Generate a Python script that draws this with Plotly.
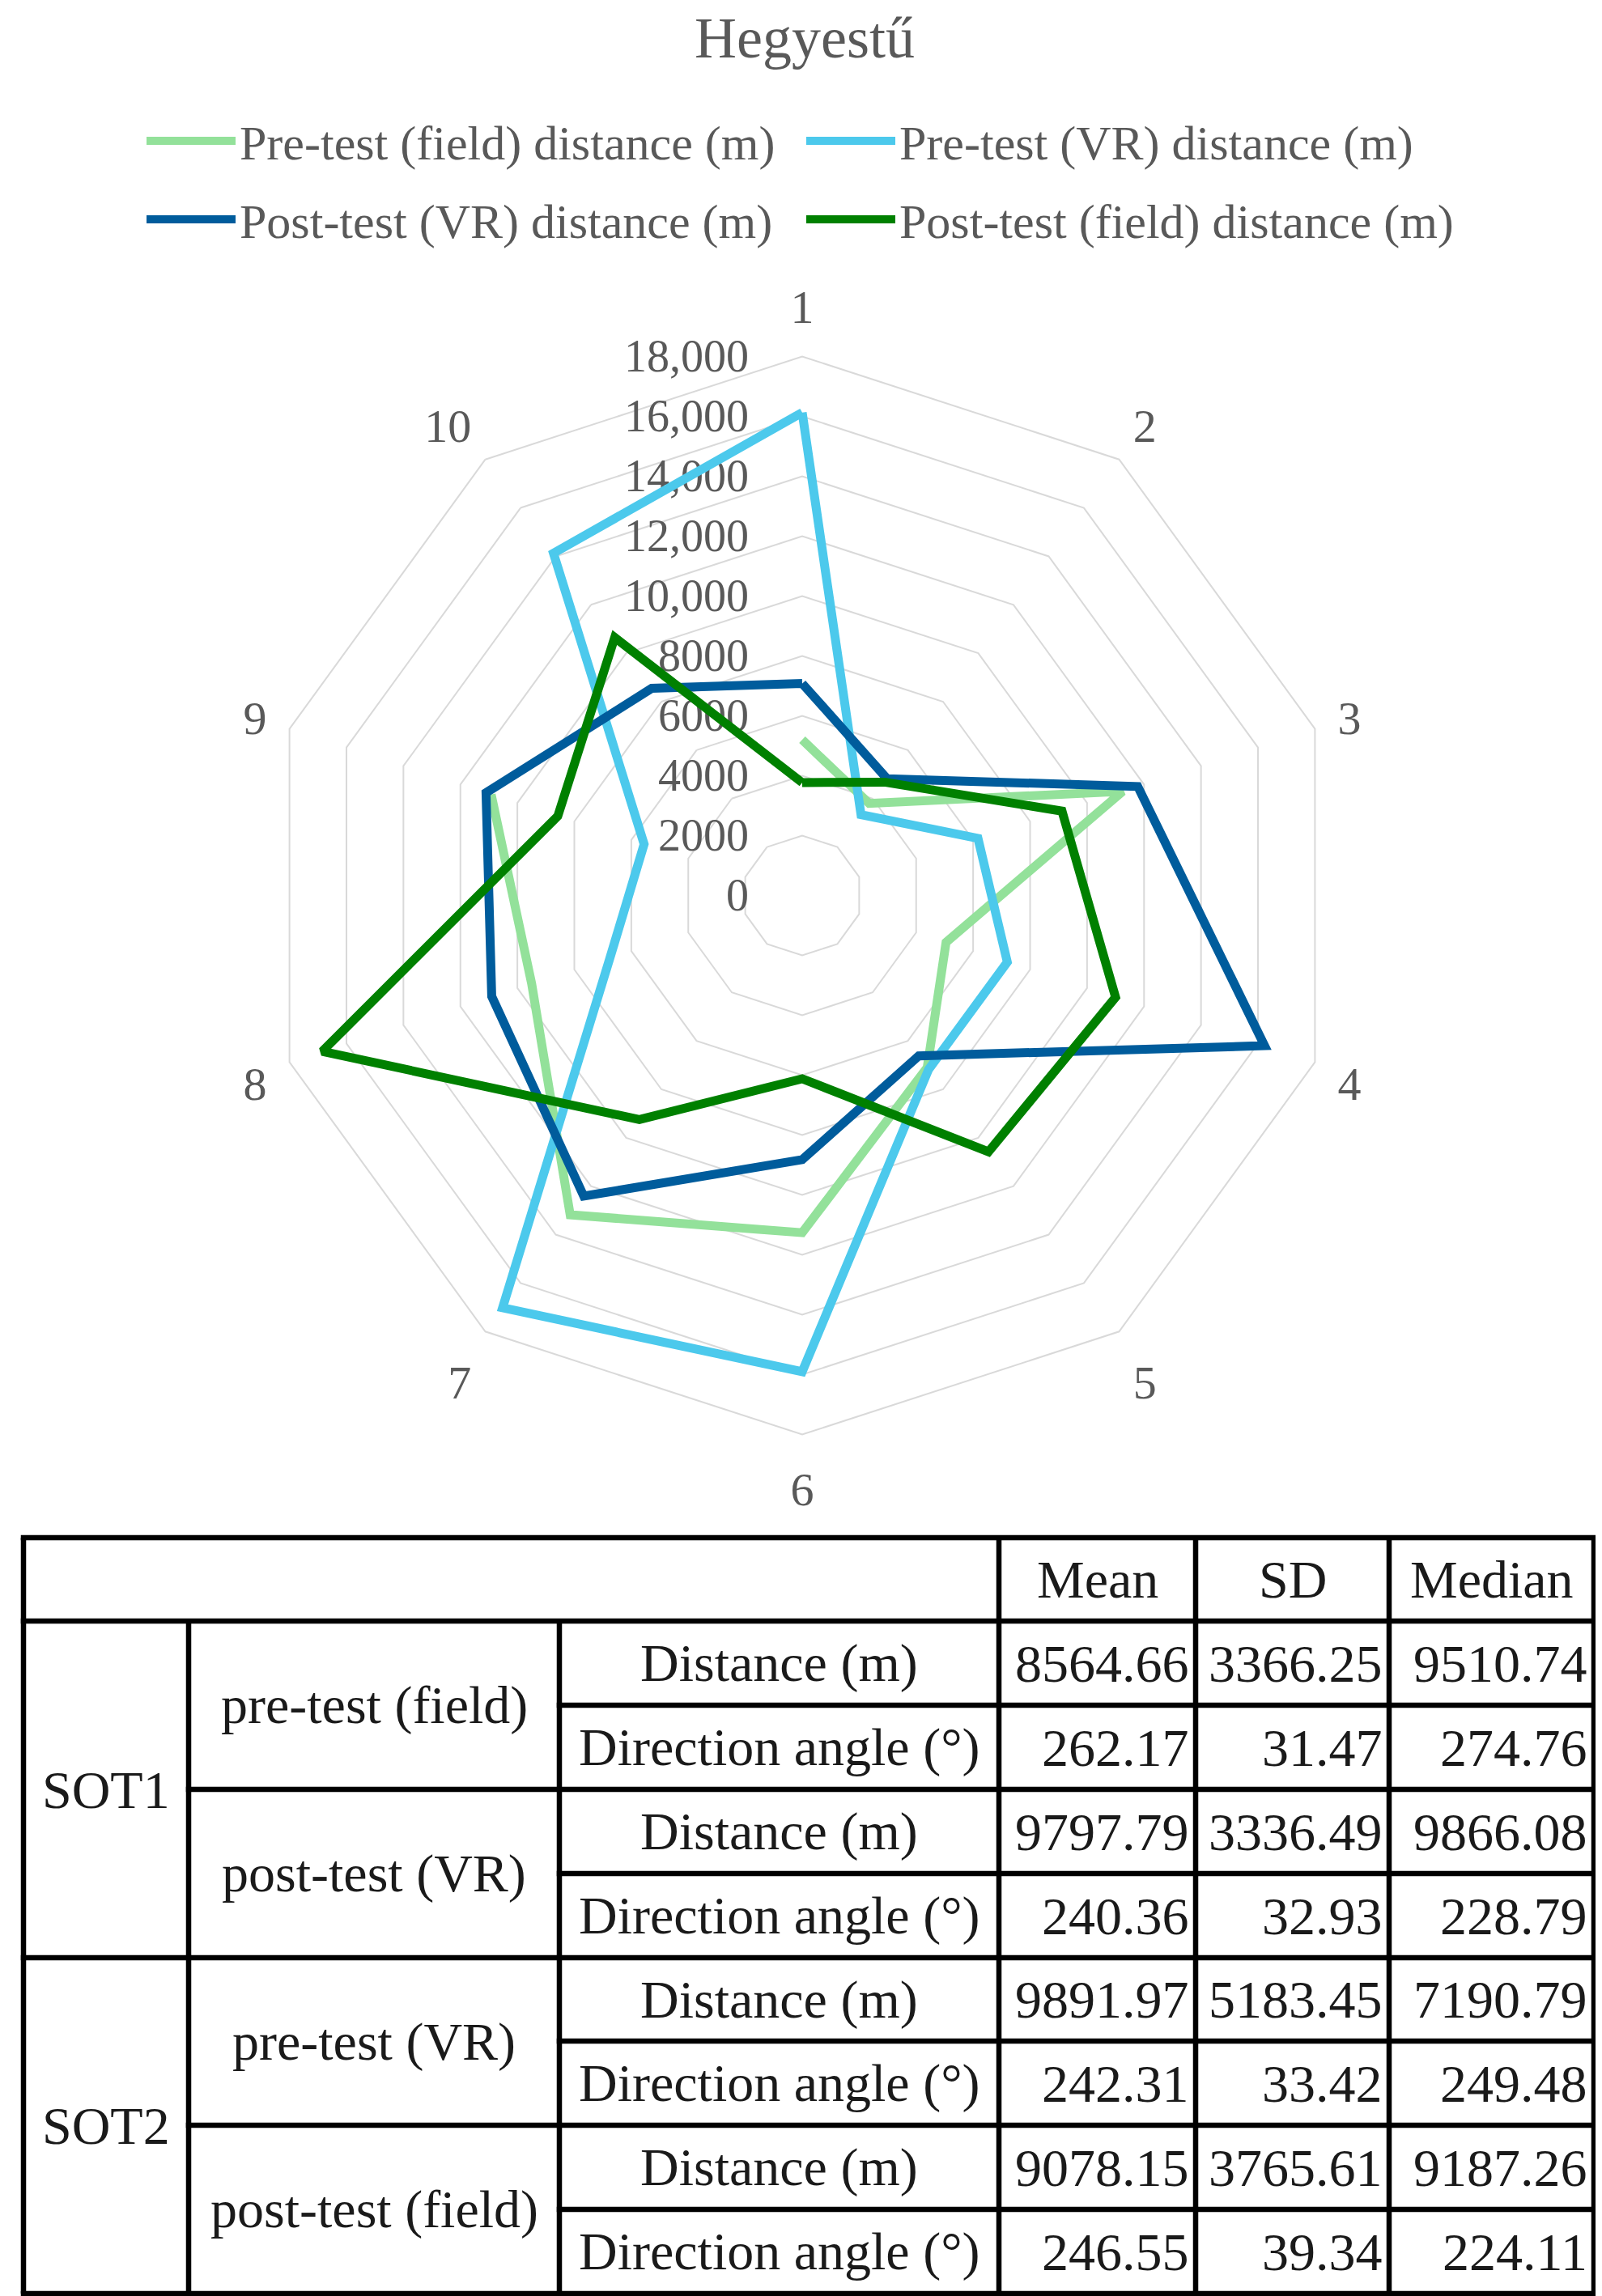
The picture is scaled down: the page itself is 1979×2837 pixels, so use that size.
import plotly.graph_objects as go

W, H = 1979, 2837

# radar data (metres), axis 10 of the pre-test field series is empty
categories = ["1", "2", "3", "4", "5", "6", "7", "8", "9", "10"]
pre_field = [5200, 3800, 11250, 5050, 7100, 11260, 13180, 9500, 10920, None]
pre_vr = [16130, 3340, 6170, 7200, 7180, 15900, 17020, 6750, 5550, 14130]
post_vr = [7080, 4820, 11780, 16230, 6620, 8820, 12410, 10900, 11100, 8550]
post_field = [3770, 4680, 9120, 11000, 10580, 6120, 9250, 16850, 8580, 10650]

radial_tickvals = [0, 2000, 4000, 6000, 8000, 10000, 12000, 14000, 16000, 18000]
radial_ticktext = ["0", "2000", "4000", "6000", "8000", "10,000", "12,000",
                   "14,000", "16,000", "18,000"]

# table data
sot_labels = ["SOT1", "SOT2"]
test_labels = ["pre-test (field)", "post-test (VR)", "pre-test (VR)", "post-test (field)"]
measure_labels = ["Distance (m)", "Direction angle (°)"]
stat_headers = ["Mean", "SD", "Median"]
mean_vals = [8564.66, 262.17, 9797.79, 240.36, 9891.97, 242.31, 9078.15, 246.55]
sd_vals = [3366.25, 31.47, 3336.49, 32.93, 5183.45, 33.42, 3765.61, 39.34]
median_vals = [9510.74, 274.76, 9866.08, 228.79, 7190.79, 249.48, 9187.26, 224.11]

FONT = "Liberation Serif"
GREY = "#595959"


def px(x):
    return x / W


def py(y):
    return 1 - y / H


series = [
    ("Pre-test (field) distance (m)", pre_field, "#93E19A", "legend"),
    ("Pre-test (VR) distance (m)", pre_vr, "#4CC9EC", "legend"),
    ("Post-test (VR) distance (m)", post_vr, "#005C9C", "legend2"),
    ("Post-test (field) distance (m)", post_field, "#008000", "legend2"),
]

fig = go.Figure()
for name, vals, col, leg in series:
    fig.add_trace(go.Scatterpolar(
        r=vals + vals[:1],
        theta=categories + categories[:1],
        mode="lines",
        name=name,
        legend=leg,
        connectgaps=False,
        line=dict(color=col, width=11, shape="linear"),
        hoverinfo="skip",
    ))

# radar geometry
cx, cy, R = 983, 1098.5, 666

legend_style = dict(orientation="h", xanchor="left", yanchor="middle",
                    entrywidth=690, entrywidthmode="pixels", itemwidth=110,
                    font=dict(family=FONT, size=60, color=GREY),
                    bgcolor="rgba(0,0,0,0)")

fig.update_layout(
    width=W, height=H,
    margin=dict(l=0, r=0, t=0, b=0),
    paper_bgcolor="white",
    plot_bgcolor="white",
    font=dict(family=FONT, color=GREY, size=56),
    title=dict(text="Hegyestű", x=px(986), xanchor="center", y=py(38), yanchor="middle",
               font=dict(family=FONT, size=72, color=GREY)),
    legend=dict(x=px(168), y=py(166), **legend_style),
    legend2=dict(x=px(168), y=py(263), **legend_style),
    polar=dict(
        domain=dict(x=[px(cx - R), px(cx + R)], y=[py(cy + R), py(cy - R)]),
        gridshape="linear",
        bgcolor="white",
        radialaxis=dict(
            range=[0, 18000], angle=90, tickangle=90,
            tickvals=radial_tickvals, ticktext=radial_ticktext,
            showline=False, showgrid=True, gridcolor="#D9D9D9", gridwidth=2,
            ticks="outside", ticklen=46, tickcolor="rgba(0,0,0,0)",
            side="counterclockwise", layer="below traces",
            tickfont=dict(family=FONT, size=56, color=GREY),
        ),
        angularaxis=dict(
            direction="clockwise", rotation=90, showgrid=False,
            showline=True, linecolor="#D9D9D9", linewidth=2,
            ticks="outside", ticklen=17, tickcolor="rgba(0,0,0,0)",
            layer="below traces",
            tickfont=dict(family=FONT, size=58, color=GREY),
        ),
    ),
)

# ---- table below the radar ----
col_edges = [21, 225, 683, 1226, 1469, 1708, 1961]
row_edges = [1892, 1995, 2099, 2203, 2307, 2411, 2514, 2618, 2722, 2826]
TXT = "#1A1A1A"
TSIZE = 66
lw = 6.5

shapes = []


def hline(y, x0, x1):
    shapes.append(dict(type="line", xref="paper", yref="paper", x0=px(x0), x1=px(x1),
                       y0=py(y), y1=py(y), line=dict(color="black", width=lw)))


def vline(x, y0, y1):
    shapes.append(dict(type="line", xref="paper", yref="paper", x0=px(x), x1=px(x),
                       y0=py(y0), y1=py(y1), line=dict(color="black", width=lw)))


n_rows = len(mean_vals)
for i, y in enumerate(row_edges):
    if i in (0, 1, len(row_edges) - 1) or (i - 1) % 4 == 0:
        start = col_edges[0]
    elif (i - 1) % 2 == 0:
        start = col_edges[1]
    else:
        start = col_edges[2]
    hline(y, start - lw / 2, col_edges[-1] + lw / 2)

for j, x in enumerate(col_edges):
    top = row_edges[1] if j in (1, 2) else row_edges[0]
    vline(x, top, row_edges[-1])


def txt(x, y, s, anchor="center"):
    fig.add_annotation(x=px(x), y=py(y), xref="paper", yref="paper", text=s,
                       showarrow=False, xanchor=anchor, yanchor="middle",
                       font=dict(family=FONT, size=TSIZE, color=TXT))


for k, h in enumerate(stat_headers):
    txt((col_edges[3 + k] + col_edges[4 + k]) / 2, (row_edges[0] + row_edges[1]) / 2, h)

for s, lab in enumerate(sot_labels):
    y0, y1 = row_edges[1 + 4 * s], row_edges[5 + 4 * s]
    txt((col_edges[0] + col_edges[1]) / 2, (y0 + y1) / 2, lab)

for t, lab in enumerate(test_labels):
    y0, y1 = row_edges[1 + 2 * t], row_edges[3 + 2 * t]
    txt((col_edges[1] + col_edges[2]) / 2, (y0 + y1) / 2, lab)

for r in range(n_rows):
    yc = (row_edges[1 + r] + row_edges[2 + r]) / 2
    txt((col_edges[2] + col_edges[3]) / 2, yc, measure_labels[r % 2])
    for k, vals in enumerate([mean_vals, sd_vals, median_vals]):
        txt(col_edges[4 + k] - 6, yc, f"{vals[r]:.2f}", anchor="right")

fig.update_layout(shapes=shapes)

fig.write_html("out.html")
